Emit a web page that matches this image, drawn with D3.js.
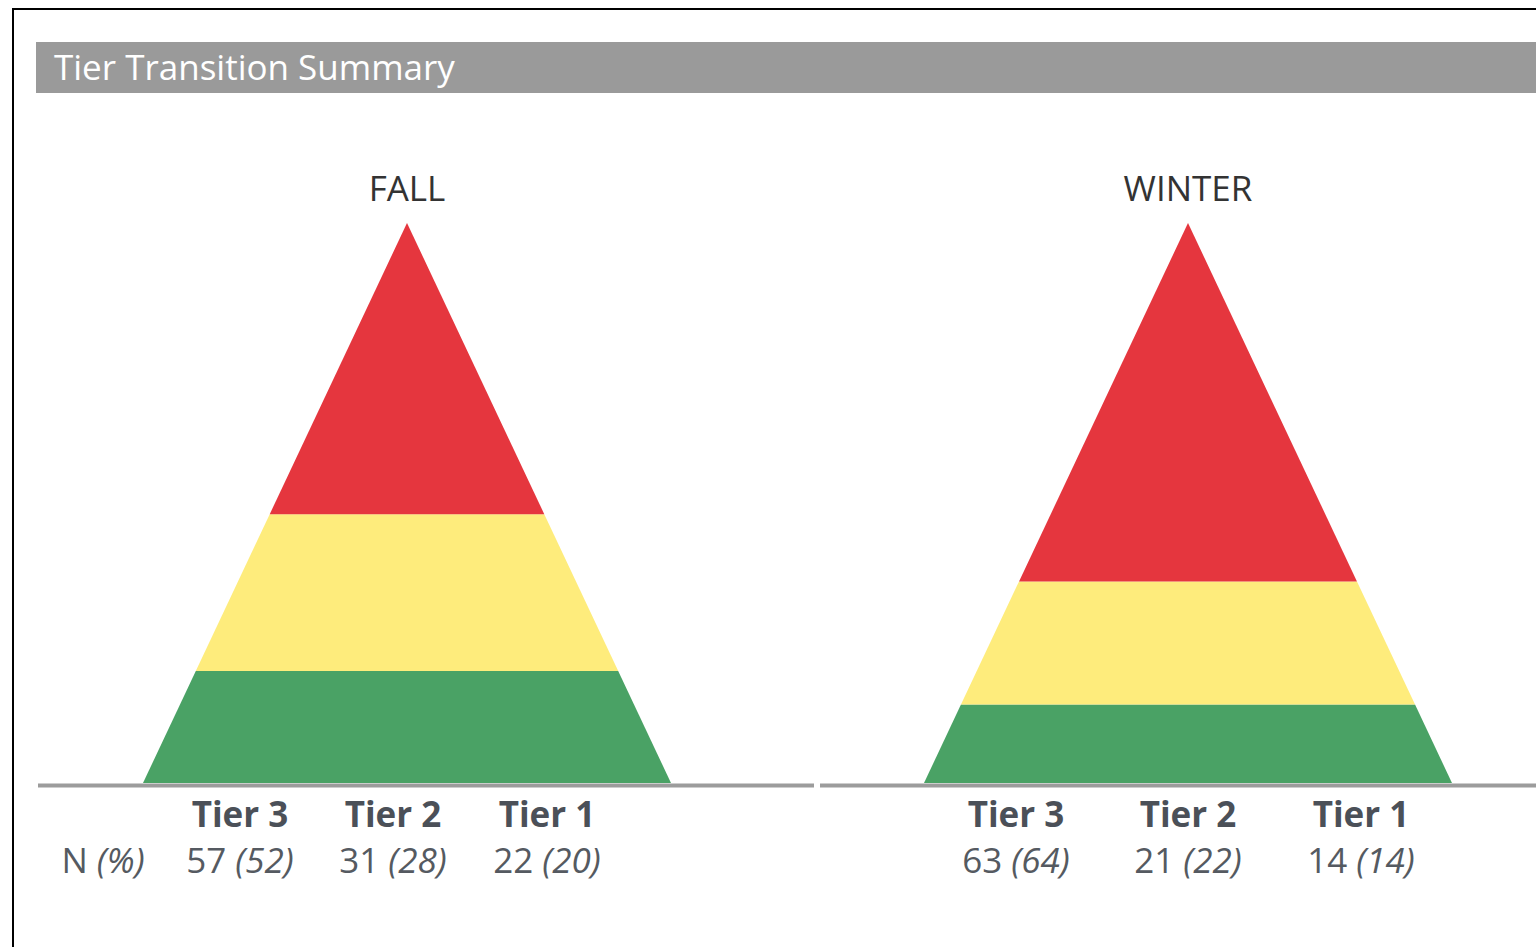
<!DOCTYPE html>
<html>
<head>
<meta charset="utf-8">
<script src="https://cdn.jsdelivr.net/npm/d3@7"></script>
<style>
  html, body { margin: 0; padding: 0; background: #fff; }
  svg { display: block; font-family: "Open Sans", sans-serif; }
</style>
</head>
<body>
<svg id="chart" width="1536" height="947"></svg>
<script>
// ---- data ----
var seasons = ["FALL", "WINTER"];
var tiers = ["Tier 3", "Tier 2", "Tier 1"];
var tierColors = ["#e5363e", "#feec7c", "#4aa265"];
var counts = { FALL: [57, 31, 22], WINTER: [63, 21, 14] };
var percents = { FALL: [52, 28, 20], WINTER: [64, 22, 14] };

// ---- layout ----
var W = 1536, H = 947;
var svg = d3.select("#chart");
var apexY = 223, baseY = 783, halfBase = 264;

var panels = [
  { name: "FALL", cx: 407, lineX0: 38, lineX1: 814, cols: [240, 393, 547], nx: 103 },
  { name: "WINTER", cx: 1188, lineX0: 820, lineX1: 1540, cols: [1016, 1188, 1361], nx: null }
];

// frame
svg.append("rect")
  .attr("x", 13).attr("y", 9)
  .attr("width", W).attr("height", H)
  .attr("fill", "none").attr("stroke", "#000").attr("stroke-width", 2);

// title bar
svg.append("rect")
  .attr("x", 36).attr("y", 42)
  .attr("width", W - 36).attr("height", 51)
  .attr("fill", "#9a9a9a");
svg.append("text")
  .attr("x", 54).attr("y", 80)
  .attr("fill", "#fff")
  .attr("font-size", 35)
  .text("Tier Transition Summary");

// cumulative percent -> y
var y = d3.scaleLinear().domain([0, 100]).range([baseY, apexY]);

panels.forEach(function(p) {
  var pct = percents[p.name];
  // half-width as function of y
  var hw = d3.scaleLinear().domain([baseY, apexY]).range([halfBase, 0]);
  var g = svg.append("g");

  // stack from bottom: Tier 1, Tier 2, Tier 3
  var stack = [];
  var acc = 0;
  for (var i = tiers.length - 1; i >= 0; i--) {
    stack.push({ i: i, lo: acc, hi: acc + pct[i] });
    acc += pct[i];
  }
  stack[stack.length - 1].hi = 100;

  g.selectAll("path.band")
    .data(stack)
    .enter().append("path")
    .attr("class", "band")
    .attr("fill", function(d) { return tierColors[d.i]; })
    .attr("d", function(d) {
      var y0 = y(d.lo), y1 = y(d.hi);
      return "M" + (p.cx - hw(y0)) + "," + y0 +
             "L" + (p.cx + hw(y0)) + "," + y0 +
             "L" + (p.cx + hw(y1)) + "," + y1 +
             "L" + (p.cx - hw(y1)) + "," + y1 + "Z";
    });

  // baseline
  g.append("line")
    .attr("x1", p.lineX0).attr("x2", p.lineX1)
    .attr("y1", baseY + 2.5).attr("y2", baseY + 2.5)
    .attr("stroke", "#9c9c9c").attr("stroke-width", 4);

  // season label
  g.append("text")
    .attr("x", p.cx).attr("y", 201)
    .attr("text-anchor", "middle")
    .attr("fill", "#333")
    .attr("font-size", 35)
    .text(p.name);

  // tier headers
  g.selectAll("text.tier")
    .data(tiers)
    .enter().append("text")
    .attr("class", "tier")
    .attr("x", function(d, i) { return p.cols[i]; })
    .attr("y", 827)
    .attr("text-anchor", "middle")
    .attr("fill", "#4b5058")
    .attr("font-size", 35)
    .attr("font-weight", "bold")
    .text(function(d) { return d; });

  // values
  var vals = g.selectAll("text.val")
    .data(tiers)
    .enter().append("text")
    .attr("class", "val")
    .attr("x", function(d, i) { return p.cols[i]; })
    .attr("y", 873)
    .attr("text-anchor", "middle")
    .attr("fill", "#555a61")
    .attr("font-size", 35);
  vals.append("tspan").text(function(d, i) { return counts[p.name][i] + " "; });
  vals.append("tspan").attr("font-style", "italic")
    .text(function(d, i) { return "(" + percents[p.name][i] + ")"; });

  if (p.nx !== null) {
    var n = g.append("text")
      .attr("x", p.nx).attr("y", 873)
      .attr("text-anchor", "middle")
      .attr("fill", "#555a61")
      .attr("font-size", 35);
    n.append("tspan").text("N ");
    n.append("tspan").attr("font-style", "italic").text("(%)");
  }
});
</script>
</body>
</html>
